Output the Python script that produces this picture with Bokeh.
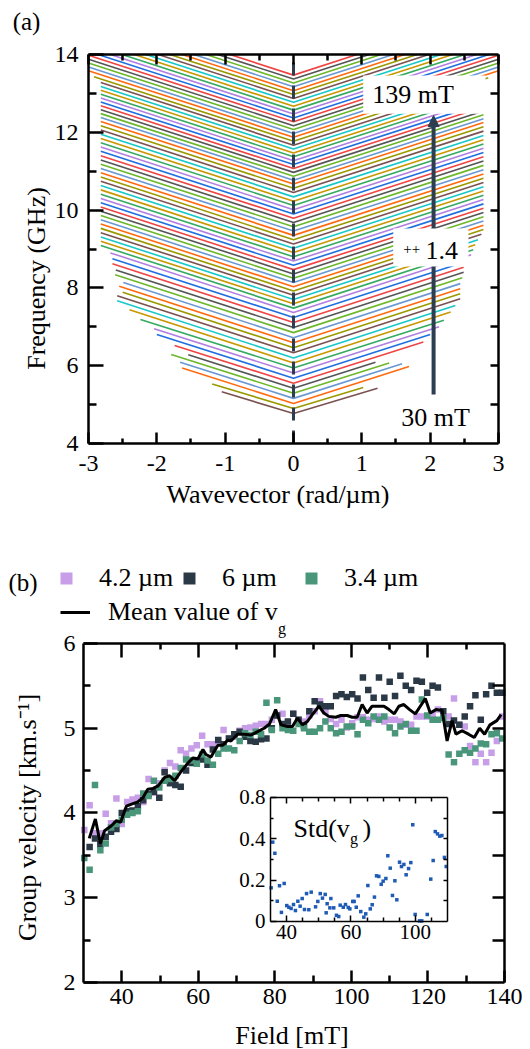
import math
from bokeh.plotting import figure
from bokeh.models import (Range1d, LinearAxis, FixedTicker, Label, BoxAnnotation,
                          Arrow, NormalHead, Legend, LegendItem)
from bokeh.layouts import column
from bokeh.embed import file_html
from bokeh.resources import INLINE

SERIF = "Liberation Serif"
NAVY = "#2c3e50"

# ---------------- panel (a) data ----------------
k_ticks = [-3, -2, -1, 0, 1, 2, 3]
k_labels = ["-3", "-2", "-1", "0", "1", "2", "3"]
k_minor = [-2.5, -1.5, -0.5, 0.5, 1.5, 2.5]
freq_ticks = [4, 6, 8, 10, 12, 14]
freq_minor = [5, 7, 9, 11, 13]
freq_right = [5, 6, 7, 8, 9, 10, 11, 12, 13]

disp_f0 = [4.77, 4.90, 5.03, 5.16, 5.29, 5.42, 5.55, 5.68, 5.81, 5.94,
           6.07, 6.20, 6.33, 6.46, 6.59, 6.72, 6.85, 6.98, 7.11, 7.24,
           7.37, 7.48, 7.59, 7.70, 7.81, 7.92, 8.03, 8.14, 8.25, 8.36,
           8.47, 8.58, 8.69, 8.80, 8.91, 9.02, 9.13, 9.24, 9.35, 9.46,
           9.57, 9.68, 9.79, 9.90, 10.01, 10.12, 10.23, 10.34, 10.45, 10.56,
           10.67, 10.77, 10.87, 10.97, 11.07, 11.17, 11.27, 11.37, 11.47, 11.57,
           11.67, 11.77, 11.87, 11.97, 12.07, 12.17, 12.27, 12.37, 12.47, 12.57,
           12.67, 12.77, 12.87, 12.97, 13.07, 13.17, 13.27, 13.37, 13.47]
disp_kl = [-1.05, -1.19, -1.63, -1.66, -1.79, -1.54, -1.74, -2.00, -2.04, -2.24,
           -2.40, -2.58, -2.58, -2.50, -2.55, -2.49, -2.61, -2.60, -2.65, -2.65,
           -2.68, -2.82, -2.82, -2.82, -2.82, -2.82, -2.82, -2.82, -2.82, -2.82,
           -2.82, -2.82, -2.82, -2.82, -2.82, -2.82, -2.82, -2.82, -2.82, -2.82,
           -2.82, -2.82, -2.82, -2.82, -2.82, -2.82, -2.82, -2.82, -2.82, -2.82,
           -2.82, -2.82, -2.82, -2.82, -2.82, -2.82, -2.82, -2.82, -2.82, -2.82,
           -2.82, -2.92, -3.0, -3.0, -3.0, -3.0, -3.0, -2.86, -2.68, -2.51,
           -2.33, -2.16, -1.98, -1.81, -1.63, -1.46, -1.28, -1.11, -0.93]
disp_fl = [5.33, 5.53, 5.94, 6.09, 6.29, 6.28, 6.52, 6.80, 6.95, 7.19,
           7.44, 7.67, 7.80, 7.89, 8.04, 8.14, 8.34, 8.46, 8.62, 8.75,
           8.90, 9.09, 9.20, 9.31, 9.42, 9.53, 9.64, 9.75, 9.86, 9.97,
           10.08, 10.19, 10.30, 10.41, 10.52, 10.63, 10.74, 10.85, 10.96, 11.07,
           11.18, 11.29, 11.40, 11.51, 11.62, 11.73, 11.84, 11.95, 12.06, 12.17,
           12.28, 12.38, 12.48, 12.58, 12.68, 12.78, 12.88, 12.98, 13.08, 13.18,
           13.28, 13.43, 13.58, 13.68, 13.78, 13.88, 13.98, 14.0, 14.0, 14.0,
           14.0, 14.0, 14.0, 14.0, 14.0, 14.0, 14.0, 14.0, 14.0]
disp_kr = [1.23, 1.02, 1.69, 1.59, 1.40, 1.20, 1.90, 2.00, 2.13, 2.20,
           2.30, 2.37, 2.44, 2.44, 2.44, 2.44, 2.47, 2.49, 2.49, 2.55,
           2.60, 2.63, 2.66, 2.70, 2.75, 2.78, 2.78, 2.78, 2.78, 2.78,
           2.78, 2.78, 2.78, 2.78, 2.78, 2.78, 2.78, 2.78, 2.78, 2.78,
           2.78, 2.78, 2.78, 2.78, 2.78, 2.78, 2.78, 2.78, 2.78, 2.78,
           2.78, 2.78, 2.78, 2.78, 2.78, 2.78, 2.78, 2.78, 2.78, 2.78,
           2.78, 2.85, 3.0, 3.0, 3.0, 3.0, 3.0, 2.86, 2.68, 2.51,
           2.33, 2.16, 1.98, 1.81, 1.63, 1.46, 1.28, 1.11, 0.93]
disp_fr = [5.42, 5.44, 5.98, 6.05, 6.07, 6.09, 6.61, 6.80, 7.00, 7.17,
           7.38, 7.55, 7.72, 7.85, 7.98, 8.11, 8.26, 8.40, 8.53, 8.69,
           8.85, 8.98, 9.11, 9.24, 9.38, 9.50, 9.61, 9.72, 9.83, 9.94,
           10.05, 10.16, 10.27, 10.38, 10.49, 10.60, 10.71, 10.82, 10.93, 11.04,
           11.15, 11.26, 11.37, 11.48, 11.59, 11.70, 11.81, 11.92, 12.03, 12.14,
           12.25, 12.35, 12.45, 12.55, 12.65, 12.75, 12.85, 12.95, 13.05, 13.15,
           13.25, 13.40, 13.58, 13.68, 13.78, 13.88, 13.98, 14.0, 14.0, 14.0,
           14.0, 14.0, 14.0, 14.0, 14.0, 14.0, 14.0, 14.0, 14.0]
curve_palette = ["#ef4545", "#1f6fe0", "#b07fe0", "#35aa60", "#c99700", "#18c8c8",
                 "#7b5252", "#9a9a00", "#ff6a10", "#6a98d2", "#6cb82a", "#555555"]

# ---------------- panel (b) data ----------------
field = [30.2, 31.6, 33.0, 34.4, 35.8, 37.2, 38.6, 40.0, 41.4, 42.8,
         44.2, 45.6, 47.0, 48.4, 49.8, 51.2, 52.6, 54.0, 55.4, 56.8,
         58.2, 59.6, 61.0, 62.4, 63.8, 65.2, 66.6, 68.0, 69.4, 70.8,
         72.2, 73.6, 75.0, 76.4, 77.8, 79.2, 80.6, 82.0, 83.4, 84.8,
         86.2, 87.6, 89.0, 90.4, 91.8, 93.2, 94.6, 96.0, 97.4, 98.8,
         100.2, 101.6, 103.0, 104.4, 105.8, 107.2, 108.6, 110.0, 111.4, 112.8,
         114.2, 115.6, 117.0, 118.4, 119.8, 121.2, 122.6, 124.0, 125.4, 126.8,
         128.2, 129.6, 131.0, 132.4, 133.8, 135.2, 136.6, 138.0, 139.4]
vg_42 = [3.80, 4.09, 3.76, 3.76, 3.99, 3.88, 4.17, 3.87, 4.13, 4.16,
         4.18, 4.13, 4.40, 4.24, 4.35, 4.50, 4.59, 4.55, 4.74, 4.70,
         4.76, 4.80, 4.91, 4.81, 4.81, 4.85, 4.98, 4.88, 4.90, 4.97,
         5.00, 5.01, 5.03, 5.05, 5.05, 5.10, 5.15, 5.17, 5.05, 5.17,
         5.10, 5.08, 5.15, 5.20, 5.32, 5.20, 5.11, 5.05, 5.10, 5.01,
         5.06, 5.13, 5.13, 5.10, 5.11, 5.14, 5.08, 5.10, 5.10, 5.08,
         5.04, 5.04, 5.14, 5.14, 5.14, 5.16, 5.22, 5.14, 5.14, 5.35,
         5.04, 5.02, 4.79, 4.60, 4.70, 4.60, 4.71, 4.85, 5.14]
vg_6 = [float("nan"), 3.60, 3.70, 3.63, 3.72, 3.78, 3.81, 4.00, 4.02, 4.03,
        4.08, 4.15, 4.22, 4.25, 4.18, 4.48, 4.35, 4.33, 4.31, 4.50,
        4.59, 4.60, 4.63, 4.57, 4.75, 4.86, 4.81, 4.88, 4.93, 4.96,
        4.90, 4.85, 4.84, 4.87, 4.88, 5.00, 5.15, 5.05, 5.08, 5.17,
        5.10, 5.03, 5.20, 5.32, 5.28, 5.26, 5.26, 5.38, 5.40, 5.37,
        5.40, 5.35, 5.60, 5.45, 5.36, 5.60, 5.36, 5.55, 5.38, 5.62,
        5.50, 5.45, 5.56, 5.55, 5.42, 5.50, 5.48, 5.20, 5.05, 5.09,
        5.04, 5.14, 5.26, 5.39, 5.10, 5.40, 5.50, 5.42, 5.42]
vg_34 = [3.47, 3.33, 4.33, 3.56, 3.64, 3.83, 3.87, 3.92, 3.98, 4.00,
         4.02, 4.23, 4.20, 4.38, 4.30, 4.38, 4.40, 4.44, 4.53, 4.63,
         4.62, 4.58, 4.69, 4.62, 4.57, 4.70, 4.76, 4.76, 4.74, 4.85,
         4.94, 4.92, 4.96, 4.93, 5.30, 4.98, 5.33, 5.00, 4.98, 4.97,
         5.05, 5.00, 4.96, 4.96, 5.00, 5.08, 5.00, 4.94, 4.96, 5.02,
         5.02, 4.93, 5.10, 5.06, 5.14, 5.10, 5.14, 5.01, 4.94, 5.02,
         5.05, 4.97, 4.97, 5.34, 5.15, 5.10, 5.10, 5.12, 4.69, 4.60,
         4.70, 4.74, 4.71, 4.76, 4.82, 4.81, 4.93, 4.94, 4.88]
mean_field = [31.5, 33.1, 34.4, 35.5, 37.3, 38.6, 39.7, 41.2, 42.9, 44.2,
              45.5, 46.8, 48.2, 49.5, 51.2, 52.5, 53.8, 55.5, 57.3, 58.6,
              59.9, 61.2, 62.0, 63.3, 65.1, 66.4, 67.7, 68.5, 70.3, 72.0,
              73.8, 75.5, 77.2, 78.6, 80.2, 81.6, 83.3, 84.6, 85.9, 87.2,
              88.5, 89.8, 91.5, 92.8, 94.1, 95.9, 97.2, 98.9, 100.2, 101.5,
              102.8, 104.1, 105.4, 107.2, 108.5, 109.8, 111.2, 112.4, 113.7, 115.2,
              116.7, 118.0, 119.3, 120.6, 122.1, 123.7, 125.0, 126.3, 127.3, 128.9,
              130.6, 132.1, 133.5, 134.8, 136.2, 138.0, 139.1]
mean_vg = [3.70, 3.93, 3.64, 3.79, 3.85, 3.91, 3.89, 4.08, 4.11, 4.13,
           4.18, 4.28, 4.29, 4.32, 4.42, 4.44, 4.38, 4.49, 4.59, 4.65,
           4.64, 4.75, 4.69, 4.66, 4.80, 4.80, 4.86, 4.85, 4.93, 4.93,
           4.92, 4.96, 5.00, 5.05, 5.22, 5.04, 5.02, 5.02, 5.12, 5.04,
           5.08, 5.16, 5.26, 5.18, 5.14, 5.13, 5.15, 5.15, 5.13, 5.13,
           5.28, 5.18, 5.26, 5.26, 5.26, 5.22, 5.17, 5.26, 5.28, 5.22,
           5.17, 5.26, 5.35, 5.18, 5.22, 5.21, 4.85, 5.09, 4.93, 4.97,
           4.93, 4.89, 5.00, 4.93, 5.04, 5.09, 5.16]
std_field = [30.4, 31.4, 32.7, 34.2, 35.6, 36.8, 38.5, 40.1, 41.4, 42.8,
             44.3, 45.5, 47.0, 48.4, 49.7, 51.1, 52.4, 53.8, 55.3, 58.0,
             59.4, 60.9, 62.3, 64.0, 64.6, 65.2, 66.9, 67.5, 69.3, 71.0,
             72.4, 73.3, 75.2, 76.6, 78.3, 79.3, 81.1, 82.0, 83.3, 84.5,
             86.1, 88.0, 89.2, 90.5, 92.0, 93.2, 94.6, 95.9, 97.3, 98.8,
             100.0, 101.7, 102.9, 104.4, 105.8, 107.3, 108.5, 110.2, 111.4, 112.9,
             114.3, 115.8, 117.2, 118.4, 119.9, 122.6, 124.0, 127.4, 129.6, 131.1,
             132.4, 133.8, 135.2, 136.5, 138.1, 139.2]
std_vg = [0.163, 0.384, 0.330, 0.098, 0.173, 0.044, 0.184, 0.077, 0.069, 0.063,
          0.082, 0.053, 0.098, 0.074, 0.111, 0.058, 0.135, 0.057, 0.142, 0.071,
          0.097, 0.135, 0.113, 0.131, 0.042, 0.086, 0.066, 0.111, 0.066, 0.030,
          0.024, 0.079, 0.069, 0.082, 0.068, 0.061, 0.097, 0.097, 0.069, 0.124,
          0.048, 0.021, 0.037, 0.174, 0.061, 0.081, 0.118, 0.221, 0.218, 0.180,
          0.195, 0.208, 0.318, 0.258, 0.126, 0.197, 0.105, 0.287, 0.266, 0.276,
          0.226, 0.256, 0.285, 0.468, 0.034, 0.003, 0.003, 0.034, 0.205, 0.295,
          0.435, 0.424, 0.413, 0.416, 0.310, 0.266]
field_ticks = [40, 60, 80, 100, 120, 140]
field_minor = [50, 70, 90, 110, 130]
field_top = [40, 60, 80, 100, 120]
vel_ticks = [2, 3, 4, 5, 6]
vel_minor = [2.5, 3.5, 4.5, 5.5]
vel_right = [2.5, 3, 3.5, 4, 4.5, 5, 5.5]
inset_x_ticks = [40, 80, 120]
inset_x_labels = ["40", "60", "100"]
inset_x_minor = [50, 60, 70, 90, 100, 110, 130]
inset_y_ticks = [0, 0.2, 0.4, 0.6]
inset_y_labels = ["0", "0.2", "0.4", "0.8"]
inset_y_minor = [0.1, 0.3, 0.5]
inset_y_right = [0.1, 0.2, 0.3, 0.4, 0.5]

C_PURPLE = "#c89ee8"
C_DARK = "#2b3846"
C_GREEN = "#4a967a"
C_STD = "#1f5bb5"


def style(ax, ticks, minors, tin, mtin, show=True, size="24px", standoff=8, lw=2.5):
    ax.ticker = FixedTicker(ticks=ticks, minor_ticks=minors)
    ax.axis_line_color = "black"
    ax.axis_line_width = lw
    ax.major_tick_line_color = "black"
    ax.major_tick_line_width = lw
    ax.minor_tick_line_color = "black"
    ax.minor_tick_line_width = lw
    ax.major_tick_in = tin
    ax.major_tick_out = 0
    ax.minor_tick_in = mtin
    ax.minor_tick_out = 0
    ax.major_label_text_font = SERIF
    if show:
        ax.major_label_text_color = "black"
        ax.major_label_text_font_size = size
        ax.major_label_standoff = standoff
    else:
        ax.major_label_text_color = None
        ax.major_label_text_font_size = "1px"
        ax.major_label_standoff = 0


def add_axis(p, side, loc, bounds, ticks, minors, tin, mtin, show=True, size="24px",
             standoff=8, lw=2.5, xr="default", yr="default"):
    a = LinearAxis(x_range_name=xr, y_range_name=yr, fixed_location=loc, bounds=bounds)
    p.add_layout(a, side)
    style(a, ticks, minors, tin, mtin, show=show, size=size, standoff=standoff, lw=lw)
    return a


def slabel(p, x, y, text, size="26px", angle=0.0, align="center"):
    p.add_layout(Label(x=x, y=y, x_units="screen", y_units="screen", text=text, angle=angle,
                       text_font=SERIF, text_font_size=size, text_color="black",
                       text_align=align, text_baseline="middle"))


def dlabel(p, x, y, text, size="26px", align="center", xr="default", yr="default"):
    p.add_layout(Label(x=x, y=y, text=text, x_range_name=xr, y_range_name=yr,
                       text_font=SERIF, text_font_size=size, text_color="black",
                       text_align=align, text_baseline="middle"))


def legend(p, items, x, y, gw=30, standoff=18):
    lg = Legend(items=items, location=(x, y), orientation="horizontal",
                glyph_width=gw, glyph_height=30, label_standoff=standoff, padding=0, margin=0,
                spacing=0, border_line_alpha=0, background_fill_alpha=0,
                label_text_font=SERIF, label_text_font_size="26px", label_text_color="black")
    p.add_layout(lg, "center")


# ================= panel (a) =================
# the frame fills the whole canvas; axes are placed at the box edges
pa = figure(width=530, height=530, x_range=Range1d(-4.2878, 3.4683),
            y_range=Range1d(1.7635, 15.3882), output_backend="svg", toolbar_location=None,
            title=None, x_axis_type=None, y_axis_type=None,
            min_border_left=0, min_border_right=0, min_border_top=0, min_border_bottom=0)
pa.grid.visible = False
pa.outline_line_color = None

xs = [[kl, 0.0, kr] for kl, kr in zip(disp_kl, disp_kr)]
ys = [[fl, f0, fr] for fl, f0, fr in zip(disp_fl, disp_f0, disp_fr)]
cols = [curve_palette[(i + 6) % 12] for i in range(len(disp_f0))]
pa.multi_line(xs, ys, line_color=cols, line_width=1.6)
pa.segment(x0=[0], y0=[4], x1=[0], y1=[14], line_color=NAVY, line_width=3, line_dash="13 10")

a = add_axis(pa, "below", 4, (-3, 3), k_ticks, k_minor, 11, 5, standoff=12)
a.major_label_overrides = dict(zip(k_ticks, k_labels))
add_axis(pa, "left", -3, (4, 14), freq_ticks, freq_minor, 15, 8, standoff=10)
add_axis(pa, "above", 14, (-3, 3), k_ticks, k_minor, 10, 6, show=False)
add_axis(pa, "right", 3, (4, 14), freq_right, [], 8, 0, show=False)

pa.add_layout(Arrow(end=NormalHead(size=11, fill_color=NAVY, line_color=NAVY),
                    x_start=2.05, y_start=5.26, x_end=2.05, y_end=12.43,
                    line_color=NAVY, line_width=4))
pa.add_layout(BoxAnnotation(left=1.02, right=2.81, bottom=12.48, top=13.46,
                            fill_color="white", fill_alpha=1, line_alpha=0))
pa.add_layout(BoxAnnotation(left=1.46, right=2.56, bottom=8.55, top=9.53,
                            fill_color="white", fill_alpha=1, line_alpha=0))
dlabel(pa, 1.75, 12.97, "139 mT")
dlabel(pa, 1.73, 9.0, "++", size="15px")
dlabel(pa, 2.17, 8.96, "1.4")
dlabel(pa, 2.08, 4.66, "30 mT")
slabel(pa, 26, 509, "(a)", size="25px")
slabel(pa, 36, 252, "Frequency (GHz)", angle=math.pi / 2)
slabel(pa, 277.5, 36, "Wavevector (rad/µm)")

# ================= panel (b) =================
pb = figure(width=530, height=519, x_range=Range1d(8.314, 146.79),
            y_range=Range1d(1.2094, 7.3333), output_backend="svg", toolbar_location=None,
            title=None, x_axis_type=None, y_axis_type=None,
            min_border_left=0, min_border_right=0, min_border_top=0, min_border_bottom=0)
pb.grid.visible = False
pb.outline_line_color = None

r_p = pb.scatter(field, vg_42, marker="square", size=6.5, fill_color=C_PURPLE, line_color=None)
r_d = pb.scatter(field, vg_6, marker="square", size=6.5, fill_color=C_DARK, line_color=None)
r_g = pb.scatter(field, vg_34, marker="square", size=6.5, fill_color=C_GREEN, line_color=None)
r_m = pb.line(mean_field, mean_vg, line_color="black", line_width=3)

add_axis(pb, "below", 2, (30, 140), field_ticks, field_minor, 12, 7, standoff=7)
add_axis(pb, "left", 30, (2, 6), vel_ticks, vel_minor, 14, 7, standoff=8)
add_axis(pb, "above", 6, (30, 140), field_top, field_minor, 14, 6, show=False)
add_axis(pb, "right", 140, (2, 6), vel_right, [], 12, 0, show=False)

legend(pb, [LegendItem(label="4.2 µm", renderers=[r_p])], 51, 456)
legend(pb, [LegendItem(label="6 µm", renderers=[r_d])], 174, 456)
legend(pb, [LegendItem(label="3.4 µm", renderers=[r_g])], 296, 456)
legend(pb, [LegendItem(label="Mean value of v", renderers=[r_m])], 60, 422)
slabel(pb, 281.5, 421.5, "g", size="16px")
slabel(pb, 22.5, 467, "(b)", size="25px")
slabel(pb, 27, 232, "Group velocity [km.s⁻¹]", angle=math.pi / 2)
slabel(pb, 291.5, 14, "Field [mT]")

# ---- inset: its own ranges and axes inside panel (b)
pb.extra_x_ranges = {"ix": Range1d(-137.80, 191.58)}
pb.extra_y_ranges = {"iy": Range1d(-0.6194, 1.8919)}
a = add_axis(pb, "below", 0, (30, 140), inset_x_ticks, inset_x_minor, 6, 4, size="21px",
             standoff=4, lw=1.5, xr="ix", yr="iy")
a.major_label_overrides = dict(zip(inset_x_ticks, inset_x_labels))
a = add_axis(pb, "left", 30, (0, 0.6), inset_y_ticks, inset_y_minor, 6, 3, size="21px",
             standoff=5, lw=1.5, xr="ix", yr="iy")
a.major_label_overrides = dict(zip(inset_y_ticks, inset_y_labels))
add_axis(pb, "above", 0.6, (30, 140), inset_x_ticks, inset_x_minor, 6, 4, show=False,
         lw=1.5, xr="ix", yr="iy")
add_axis(pb, "right", 140, (0, 0.6), inset_y_right, [], 4, 0, show=False,
         lw=1.5, xr="ix", yr="iy")
pb.scatter(std_field, std_vg, marker="square", size=3.5, fill_color=C_STD, line_color=None,
           x_range_name="ix", y_range_name="iy")
dlabel(pb, 44.29, 0.45, "Std(v", align="left", xr="ix", yr="iy")
dlabel(pb, 81.9, 0.40, "g", size="16px", xr="ix", yr="iy")
dlabel(pb, 87.18, 0.45, ")", align="left", xr="ix", yr="iy")

layout = column(pa, pb)
open("out.html", "w").write(file_html(layout, INLINE))
